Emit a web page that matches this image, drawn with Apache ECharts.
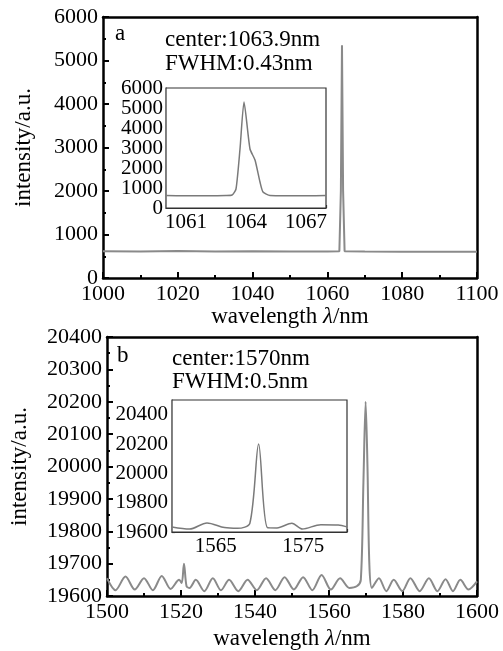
<!DOCTYPE html>
<html>
<head>
<meta charset="utf-8">
<script src="https://cdn.jsdelivr.net/npm/echarts@6/dist/echarts.min.js"></script>
<style>html,body{margin:0;padding:0;background:#fff}#c{width:503px;height:651px}</style>
</head>
<body>
<div id="c"></div>
<script>
// ---- data (a) 1064 nm ----
const aWave = [1000, 1010, 1020, 1030, 1040, 1050, 1060, 1063.2, 1063.6, 1063.9, 1064.2, 1064.6, 1070, 1080, 1090, 1100];
const aInt  = [615, 612, 618, 610, 614, 611, 612, 615, 2000, 5350, 2000, 615, 608, 606, 605, 606];
const aInsetWave = [1060, 1061, 1062, 1063, 1063.3, 1063.5, 1063.7, 1063.9, 1064.2, 1064.45, 1064.7, 1064.85, 1065.2, 1066, 1067, 1068];
const aInsetInt  = [620, 615, 615, 625, 650, 950, 2950, 5300, 2950, 2400, 1300, 800, 620, 610, 610, 620];
const aInsetLabels = [1061, 1064, 1067];
// ---- data (b) 1570 nm ----
const bWave = [1500, 1502.3, 1505, 1507.5, 1510, 1512.4, 1514.8, 1517.2, 1519.5, 1520.2, 1520.8, 1521.5, 1522.3, 1524, 1526.3, 1528.6, 1530.8, 1533, 1535.5, 1538, 1540.5, 1543, 1545.5, 1548, 1550.5, 1553, 1555.5, 1558, 1560.5, 1563, 1565.5, 1567.5, 1568.6, 1569.3, 1569.9, 1570.4, 1570.9, 1571.6, 1573.5, 1575.5, 1577.5, 1579.8, 1582, 1584.5, 1587, 1589.3, 1591.5, 1593.5, 1595.5, 1597.7, 1600];
const bInt  = [19655, 19618, 19660, 19620, 19655, 19618, 19662, 19622, 19650, 19640, 19700, 19630, 19625, 19650, 19615, 19655, 19618, 19650, 19615, 19650, 19618, 19655, 19618, 19658, 19620, 19658, 19618, 19665, 19620, 19655, 19625, 19630, 19650, 19950, 20200, 20000, 19700, 19625, 19655, 19615, 19650, 19615, 19655, 19615, 19655, 19615, 19652, 19615, 19650, 19620, 19645];
const bInsetWave = [1560, 1562, 1564, 1566, 1567.5, 1568.9, 1569.9, 1570.9, 1572, 1573.7, 1574.9, 1577, 1579, 1580];
const bInsetInt  = [19634, 19620, 19662, 19630, 19625, 19660, 20200, 19630, 19628, 19660, 19620, 19650, 19648, 19635];
const bInsetLabels = [1565, 1575];

const FF = 'Liberation Serif';
const pairs = (xs, ys) => xs.map((x, i) => [x, ys[i]]);
const plain = v => String(v);

function mainX(grid, min, max, gap) {
  return {
    gridIndex: grid, type: 'value', min: min, max: max, interval: 20,
    axisLine: {show: true, onZero: false, lineStyle: {color: '#000', width: 2.5}},
    axisTick: {show: true, inside: true, length: 6, lineStyle: {color: '#000', width: 2}},
    minorTick: {show: true, splitNumber: 2, length: 3, lineStyle: {color: '#000', width: 2}},
    splitLine: {show: false}, minorSplitLine: {show: false},
    axisLabel: {fontFamily: FF, fontSize: 22, color: '#000', margin: 5, formatter: plain, showMinLabel: true, showMaxLabel: true},
    name: 'wavelength {i|λ}/nm', nameLocation: 'middle', nameGap: gap,
    nameTextStyle: {fontFamily: FF, fontSize: 23, color: '#000', rich: {i: {fontFamily: FF, fontSize: 23, fontStyle: 'italic', color: '#000'}}}
  };
}
function mainY(grid, min, max, interval, gap) {
  return {
    gridIndex: grid, type: 'value', min: min, max: max, interval: interval,
    axisLine: {show: true, onZero: false, lineStyle: {color: '#000', width: 2.5}},
    axisTick: {show: true, inside: true, length: 6, lineStyle: {color: '#000', width: 2}},
    minorTick: {show: true, splitNumber: 2, length: 3, lineStyle: {color: '#000', width: 2}},
    splitLine: {show: false}, minorSplitLine: {show: false},
    axisLabel: {fontFamily: FF, fontSize: 22, color: '#000', margin: 5, formatter: plain, showMinLabel: true, showMaxLabel: true},
    name: 'intensity/a.u.', nameLocation: 'middle', nameGap: gap, nameRotate: 90,
    nameTextStyle: {fontFamily: FF, fontSize: 23, color: '#000'}
  };
}
function frameAxis(grid, min, max, pos) {
  return {
    gridIndex: grid, type: 'value', min: min, max: max, position: pos,
    axisLine: {show: true, onZero: false, lineStyle: {color: '#000', width: 2.5}},
    axisTick: {show: false}, axisLabel: {show: false}, splitLine: {show: false}
  };
}
function insetAxis(grid, min, max, interval, labels, margin, showMin, showMax) {
  return {
    gridIndex: grid, type: 'value', min: min, max: max, interval: interval,
    axisLine: {show: true, onZero: false, lineStyle: {color: '#333', width: 1.2}},
    axisTick: {show: true, inside: true, length: 3, lineStyle: {color: '#333', width: 1.2}},
    splitLine: {show: false},
    axisLabel: {fontFamily: FF, fontSize: 21, color: '#000', margin: margin,
      showMinLabel: showMin, showMaxLabel: showMax, hideOverlap: false,
      formatter: labels ? (v => labels.indexOf(v) >= 0 ? String(v) : '') : plain}
  };
}
// companion axis that only carries the inset's end labels (min and max)
function insetEndLabels(grid, min, max) {
  return {
    gridIndex: grid, type: 'value', min: min, max: max, interval: max - min, position: 'left',
    axisLine: {show: false}, axisTick: {show: false}, splitLine: {show: false},
    axisLabel: {fontFamily: FF, fontSize: 21, color: '#000', margin: 3, formatter: plain, showMinLabel: true, showMaxLabel: true}
  };
}

const chart = echarts.init(document.getElementById('c'), null, {renderer: 'canvas'});
const lineStyleMain = {color: '#8a8a8a', width: 2};
const lineStyleInset = {color: '#7a7a7a', width: 1.5};
chart.setOption({
  animation: false,
  backgroundColor: '#fff',
  grid: [
    {left: 103, top: 17, width: 374, height: 261, show: false},
    {left: 166, top: 88, width: 160, height: 120, show: true, borderColor: '#333', borderWidth: 1.2, backgroundColor: '#fff', z: 5},
    {left: 103, top: 337, width: 374, height: 261, show: false},
    {left: 172, top: 400, width: 175, height: 132, show: true, borderColor: '#333', borderWidth: 1.2, backgroundColor: '#fff', z: 5}
  ],
  xAxis: [
    mainX(0, 1000, 1100, 25),
    insetAxis(1, 1060, 1068, 1, aInsetLabels, 4, true, true),
    mainX(2, 1500, 1600, 31),
    insetAxis(3, 1560, 1580, 5, bInsetLabels, 4, true, true),
    frameAxis(0, 1000, 1100, 'top'),
    frameAxis(2, 1500, 1600, 'top')
  ],
  yAxis: [
    mainY(0, 0, 6000, 1000, 68),
    insetAxis(1, 0, 6000, 1000, null, 3, false, false),
    mainY(2, 19600, 20400, 100, 76),
    insetAxis(3, 19600, 20500, 200, null, 4, true, false),
    frameAxis(0, 0, 6000, 'right'),
    frameAxis(2, 19600, 20400, 'right'),
    insetEndLabels(1, 0, 6000)
  ],
  series: [
    {type: 'line', xAxisIndex: 0, yAxisIndex: 0, data: pairs(aWave, aInt), showSymbol: false, lineStyle: lineStyleMain},
    {type: 'line', xAxisIndex: 1, yAxisIndex: 1, data: pairs(aInsetWave, aInsetInt), showSymbol: false, smooth: 0.2, lineStyle: lineStyleInset, z: 6},
    {type: 'line', xAxisIndex: 2, yAxisIndex: 2, data: pairs(bWave, bInt), showSymbol: false, smooth: 0.3, lineStyle: lineStyleMain},
    {type: 'line', xAxisIndex: 3, yAxisIndex: 3, data: pairs(bInsetWave, bInsetInt), showSymbol: false, smooth: 0.3, lineStyle: lineStyleInset, z: 6}
  ],
  graphic: [
    {type: 'text', left: 115, top: 22, style: {text: 'a', font: '23px "Liberation Serif"', fill: '#000'}},
    {type: 'text', left: 165, top: 28, style: {text: 'center:1063.9nm', font: '23px "Liberation Serif"', fill: '#000'}},
    {type: 'text', left: 165, top: 52, style: {text: 'FWHM:0.43nm', font: '23px "Liberation Serif"', fill: '#000'}},
    {type: 'text', left: 117, top: 344, style: {text: 'b', font: '23px "Liberation Serif"', fill: '#000'}},
    {type: 'text', left: 172, top: 347, style: {text: 'center:1570nm', font: '23px "Liberation Serif"', fill: '#000'}},
    {type: 'text', left: 172, top: 370, style: {text: 'FWHM:0.5nm', font: '23px "Liberation Serif"', fill: '#000'}}
  ]
});
</script>
</body>
</html>
